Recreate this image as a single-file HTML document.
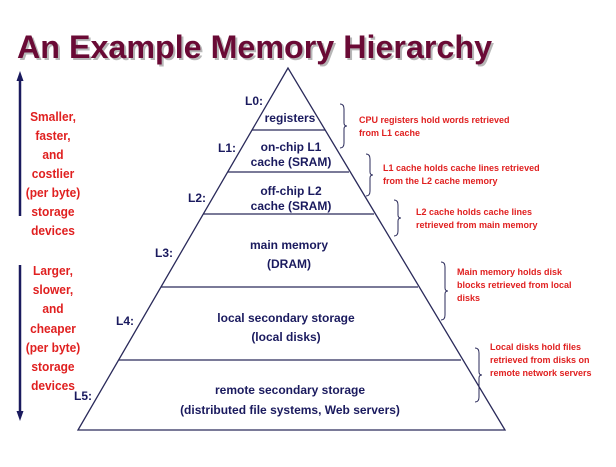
<!DOCTYPE html>
<html><head><meta charset="utf-8"><style>
body{margin:0;background:#fff;width:616px;height:462px;overflow:hidden}
svg text{font-family:"Liberation Sans",sans-serif;font-weight:bold}
</style></head><body>
<svg width="616" height="462" viewBox="0 0 616 462" xmlns="http://www.w3.org/2000/svg">
<defs><marker id="ah" markerUnits="userSpaceOnUse" markerWidth="10" markerHeight="10" refX="5" refY="5" orient="auto"><path d="M0,1.5 L10,5 L0,8.5 z" fill="#1a1a5e"/></marker></defs>
<text x="17" y="58" font-size="32" fill="#888" opacity="0.6" transform="translate(2,2)" textLength="475" lengthAdjust="spacingAndGlyphs">An Example Memory Hierarchy</text>
<text x="17" y="58" font-size="32" fill="#6a0a35" textLength="475" lengthAdjust="spacingAndGlyphs">An Example Memory Hierarchy</text>
<g stroke="#2a2a5a" stroke-width="1.3" fill="none">
<path d="M288,68 L78,430 L505,430 Z"/>
<line x1="252" y1="130" x2="325" y2="130"/>
<line x1="228" y1="172" x2="349" y2="172"/>
<line x1="203" y1="214" x2="374" y2="214"/>
<line x1="161" y1="287" x2="418" y2="287"/>
<line x1="119" y1="360" x2="461" y2="360"/>
</g>
<line x1="20" y1="216" x2="20" y2="76" stroke="#1a1a5e" stroke-width="2.5" marker-end="url(#ah)"/>
<line x1="20" y1="265" x2="20" y2="416" stroke="#1a1a5e" stroke-width="2.5" marker-end="url(#ah)"/>
<g fill="#e02020" font-size="13" text-anchor="middle" transform="translate(53,0) scale(0.92,1) translate(-53,0)">
<text x="53" y="121">Smaller,</text><text x="53" y="140">faster,</text><text x="53" y="159">and</text><text x="53" y="178">costlier</text><text x="53" y="197">(per byte)</text><text x="53" y="216">storage</text><text x="53" y="235">devices</text>
<text x="53" y="275">Larger,</text><text x="53" y="294">slower,</text><text x="53" y="313">and</text><text x="53" y="333">cheaper</text><text x="53" y="352">(per byte)</text><text x="53" y="371">storage</text><text x="53" y="390">devices</text>
</g>
<g fill="#1a1a5e" font-size="12">
<text x="245" y="105">L0:</text><text x="218" y="152">L1:</text><text x="188" y="202">L2:</text><text x="155" y="257">L3:</text><text x="116" y="325">L4:</text><text x="74" y="400">L5:</text>
<g text-anchor="middle">
<text x="290" y="122">registers</text>
<text x="291" y="151">on-chip L1</text><text x="291" y="166">cache (SRAM)</text>
<text x="291" y="195">off-chip L2</text><text x="291" y="210">cache (SRAM)</text>
<text x="289" y="249">main memory</text><text x="289" y="268">(DRAM)</text>
<text x="286" y="322">local secondary storage</text><text x="286" y="341">(local disks)</text>
<text x="290" y="394">remote secondary storage</text><text x="290" y="414">(distributed file systems, Web servers)</text>
</g></g>
<g stroke="#2a2a5a" stroke-width="1" fill="none">
<path d="M340,104 q4,0 4,5 v14 q0,3 3,3 q-3,0 -3,3 v14 q0,5 -4,5"/>
<path d="M366,154 q4,0 4,5 v13 q0,3 3,3 q-3,0 -3,3 v13 q0,5 -4,5"/>
<path d="M394,200 q4,0 4,5 v10 q0,3 3,3 q-3,0 -3,3 v10 q0,5 -4,5"/>
<path d="M441,262 q4,0 4,5 v21 q0,3 3,3 q-3,0 -3,3 v21 q0,5 -4,5"/>
<path d="M475,348 q4,0 4,5 v19 q0,3 3,3 q-3,0 -3,3 v19 q0,5 -4,5"/>
</g>
<g fill="#e02020" font-size="9">
<text x="359" y="123">CPU registers hold words retrieved</text><text x="359" y="136">from L1 cache</text>
<text x="383" y="171">L1 cache holds cache lines retrieved</text><text x="383" y="184">from the L2 cache memory</text>
<text x="416" y="215">L2 cache holds cache lines</text><text x="416" y="228">retrieved from main memory</text>
<text x="457" y="275">Main memory holds disk</text><text x="457" y="288">blocks retrieved from local</text><text x="457" y="301">disks</text>
<text x="490" y="350">Local disks hold files</text><text x="490" y="363">retrieved from disks on</text><text x="490" y="376">remote network servers</text>
</g>
</svg>
</body></html>
